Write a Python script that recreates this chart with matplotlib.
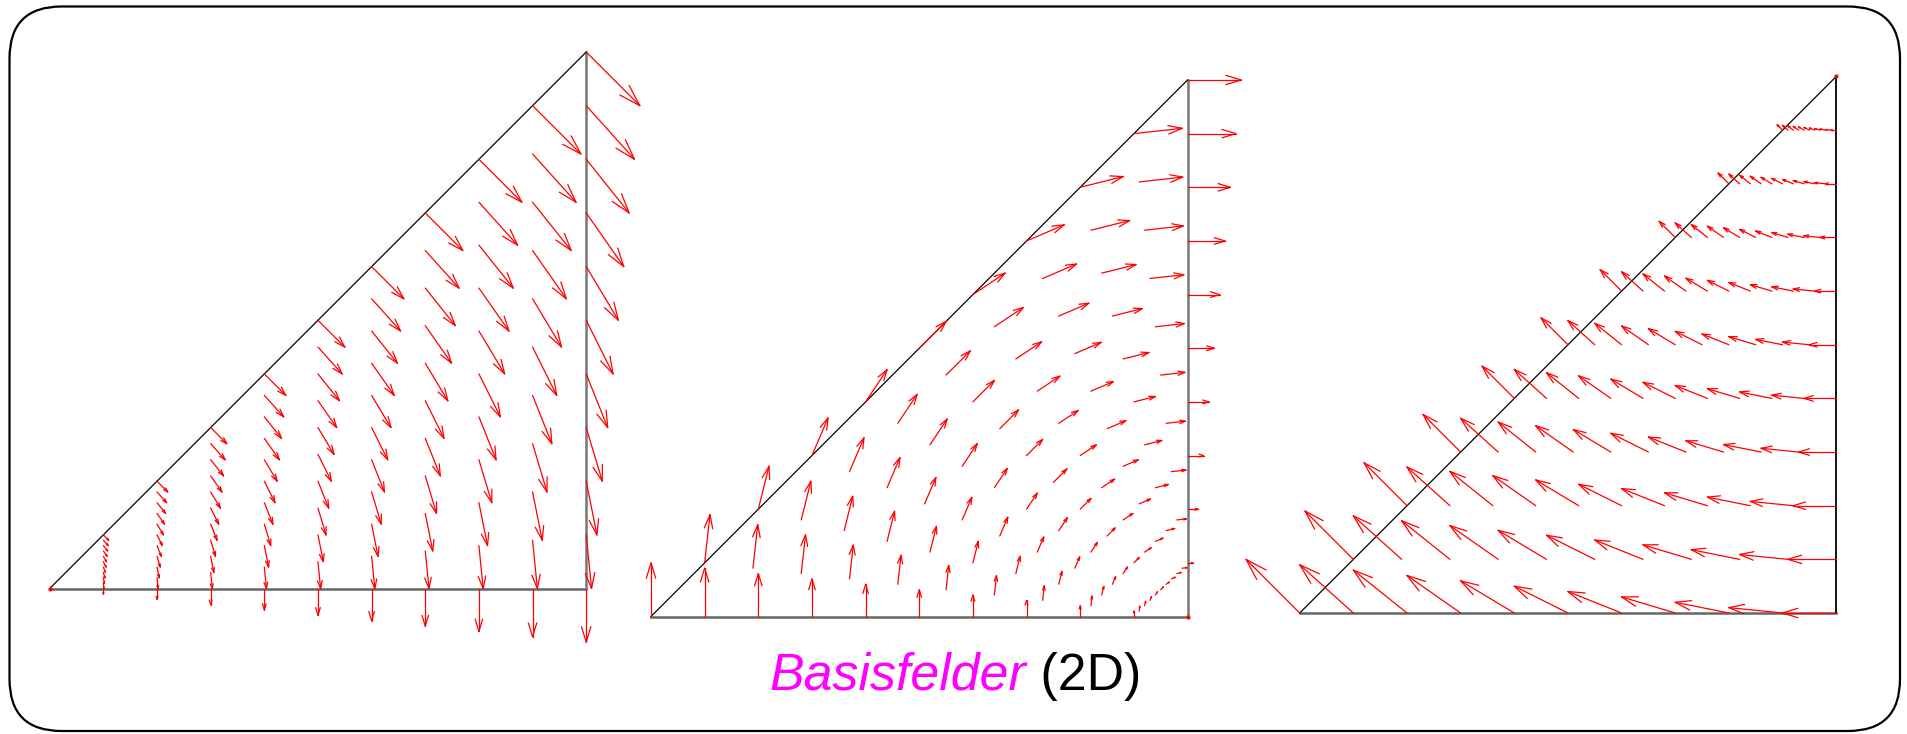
import numpy as np
import matplotlib
matplotlib.use("Agg")
import matplotlib.pyplot as plt
from matplotlib.collections import LineCollection
from matplotlib.patches import FancyBboxPatch

# Reference triangle and its barycentric coordinates
vertices = np.array([[0.0, 0.0], [1.0, 0.0], [1.0, 1.0]])
grad_lambda = np.array([[-1.0, 0.0], [1.0, -1.0], [0.0, 1.0]])

# Grid parameters (fractions along the collapsed sampling grid)
s_vals = [0.0, 0.1, 0.2, 0.3, 0.4, 0.5, 0.6, 0.7, 0.8, 0.9, 1.0]
t_vals = [0.0, 0.1, 0.2, 0.3, 0.4, 0.5, 0.6, 0.7, 0.8, 0.9, 1.0]

# Whitney edge functions w = lam_a grad(lam_b) - lam_b grad(lam_a), one per panel
edge_pairs = [(2, 1), (0, 2), (1, 0)]
arrow_scale = 0.1

title_main = "Basisfelder"
title_tail = " (2D)"

# panel origin (px from left, px from top) and edge length in px
panel_px = [(49.7, 588.5), (651.0, 616.5), (1299.7, 613.0)]
side_px = 536.5
W, H = 1908, 734
pad = 0.15


def lam(p):
    x, y = p
    return np.array([1.0 - x, x - y, y])


def whitney(p, a, b):
    l = lam(p)
    return l[a] * grad_lambda[b] - l[b] * grad_lambda[a]


def rot(u, ang):
    c, s = np.cos(ang), np.sin(ang)
    return np.array([c * u[0] - s * u[1], s * u[0] + c * u[1]])


fig = plt.figure(figsize=(W / 100, H / 100), dpi=100)

# rounded frame around the whole figure
bg = fig.add_axes([0, 0, 1, 1])
bg.set_xlim(0, W)
bg.set_ylim(H, 0)
bg.axis("off")
bg.add_patch(FancyBboxPatch((9.5, 6.5), 1890.5, 724.5,
                            boxstyle="round,pad=0,rounding_size=52",
                            fill=False, ec="black", lw=1.6))

head_ang = np.deg2rad(17)
head_frac = 0.3

for (a, b), (ox, oy) in zip(edge_pairs, panel_px):
    ax = fig.add_axes([(ox - pad * side_px) / W,
                       (H - oy - pad * side_px) / H,
                       (1 + 2 * pad) * side_px / W,
                       (1 + 2 * pad) * side_px / H])
    ax.set_xlim(-pad, 1 + pad)
    ax.set_ylim(-pad, 1 + pad)
    ax.axis("off")

    c = 3 - a - b
    va, vb = sorted([a, b])
    Vc, Va, Vb = vertices[c], vertices[va], vertices[vb]

    # triangle edges: bottom and right edge grey, hypotenuse black
    right_col = "black" if c == 2 else "#777777"
    ax.plot([0, 1], [0, 0], color="#666666", lw=1.8, zorder=1)
    ax.plot([1, 1], [0, 1], color=right_col, lw=1.8 if c != 2 else 1.3, zorder=1)
    ax.plot([0, 1], [0, 1], color="black", lw=0.9, zorder=1)

    segs = []
    for s in s_vals:
        for t in t_vals:
            p = Vc + s * (Va - Vc) + s * t * (Vb - Va)
            d = arrow_scale * whitney(p, a, b)
            L = np.hypot(*d)
            if L < 1e-9:
                continue
            tip = p + d
            u = -d / L
            segs.append([p, tip])
            segs.append([tip, tip + head_frac * L * rot(u, head_ang)])
            segs.append([tip, tip + head_frac * L * rot(u, -head_ang)])
    ax.add_collection(LineCollection(segs, colors="red", linewidths=0.9,
                                     capstyle="round", zorder=2, clip_on=False))
    ax.plot([Vc[0]], [Vc[1]], "o", color="red", ms=2, zorder=3, clip_on=False)

# title: italic magenta word followed by plain black suffix
t1 = bg.text(769, 690, title_main, color="#FF00FF", style="italic",
             fontsize=37.4, family="Liberation Sans", ha="left", va="baseline")
bg.annotate(title_tail, xy=(1, 0), xycoords=t1, color="black",
            fontsize=37.4, family="Liberation Sans", ha="left", va="bottom")

fig.savefig("out.png", dpi=100)
